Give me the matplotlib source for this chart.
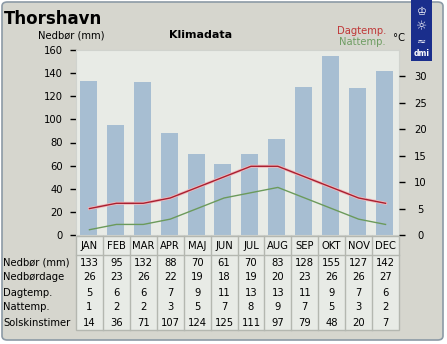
import numpy as np
import matplotlib.pyplot as plt
from matplotlib.patches import Rectangle, FancyBboxPatch

# Klimadata Thorshavn
maaneder = ['JAN', 'FEB', 'MAR', 'APR', 'MAJ', 'JUN', 'JUL', 'AUG', 'SEP', 'OKT', 'NOV', 'DEC']
nedbor = [133, 95, 132, 88, 70, 61, 70, 83, 128, 155, 127, 142]
nedbordage = [26, 23, 26, 22, 19, 18, 19, 20, 23, 26, 26, 27]
dagtemp = [5, 6, 6, 7, 9, 11, 13, 13, 11, 9, 7, 6]
nattemp = [1, 2, 2, 3, 5, 7, 8, 9, 7, 5, 3, 2]
solskin = [14, 36, 71, 107, 124, 125, 111, 97, 79, 48, 20, 7]

raekker = ['Nedbør (mm)', 'Nedbørdage', 'Dagtemp.', 'Nattemp.', 'Solskinstimer']
tabel = [nedbor, nedbordage, dagtemp, nattemp, solskin]

W, H = 447, 344
bg = '#d6d6ce'
plotbg = '#e8ebe6'
bar_col = '#a7bed2'
red = '#a82030'
green = '#6b9a5b'
fs = 7.2


def fx(x):
    return x / W


def fy(y):
    return 1 - y / H


fig = plt.figure(figsize=(W / 100, H / 100), dpi=100)
fig.patch.set_facecolor('white')

# ramme
ramme = FancyBboxPatch((fx(2), fy(340)), fx(441), (338) / H,
                       boxstyle='round,pad=0,rounding_size=0.012',
                       transform=fig.transFigure, facecolor=bg,
                       edgecolor='#8c9aa6', linewidth=1.2, zorder=-10)
fig.patches.append(ramme)

# DMI logo
fig.patches.append(Rectangle((fx(411), fy(61)), fx(21), 61 / H,
                             transform=fig.transFigure, facecolor='#1a2e8c',
                             edgecolor='none', zorder=-5))
fig.text(fx(421.5), fy(12), '♔', color='white', fontsize=8, ha='center', va='center')
fig.text(fx(421.5), fy(27), '☼', color='white', fontsize=9, ha='center', va='center')
fig.text(fx(421.5), fy(42), '≈', color='white', fontsize=8, ha='center', va='center')
fig.text(fx(421.5), fy(54), 'dmi', color='white', fontsize=5.5, weight='bold',
         ha='center', va='center')

# tekster
fig.text(fx(4), fy(19), 'Thorshavn', fontsize=12, weight='bold', ha='left', va='center')
fig.text(fx(71), fy(35), 'Nedbør (mm)', fontsize=fs, ha='center', va='center')
fig.text(fx(201), fy(35), 'Klimadata', fontsize=8, weight='bold', ha='center', va='center')
fig.text(fx(386), fy(31), 'Dagtemp.', fontsize=fs, color='#c03838', ha='right', va='center')
fig.text(fx(386), fy(42), 'Nattemp.', fontsize=fs, color='#6f9e63', ha='right', va='center')
fig.text(fx(393), fy(38), '°C', fontsize=fs, ha='left', va='center')

# diagram
x0, x1, y0, y1 = 76, 399, 50, 235
ax = fig.add_axes([fx(x0), fy(y1), fx(x1 - x0), (y1 - y0) / H])
ax.set_facecolor(plotbg)
x = np.arange(len(maaneder)) + 0.5
ax.bar(x - 0.04, nedbor, width=0.63, color=bar_col, zorder=1)
ax.set_xlim(0, 12)
ax.set_ylim(0, 160)
ax.set_yticks(range(0, 161, 20))
ax.set_xticks([])
ax.tick_params(axis='y', direction='out', length=4.3, width=1, pad=5, labelsize=fs)
for s in ax.spines.values():
    s.set_color('#d0d3ce')

ax2 = ax.twinx()
ax2.set_ylim(0, 35)
ax2.set_yticks(range(0, 31, 5))
ax2.tick_params(axis='y', direction='out', length=4.3, width=1, pad=11, labelsize=fs)
for lab in ax2.get_yticklabels():
    lab.set_horizontalalignment('center')
for s in ax2.spines.values():
    s.set_visible(False)
ax2.plot(x, dagtemp, color='#f0b8bc', linewidth=2.2, zorder=2)
ax2.plot(x, dagtemp, color=red, linewidth=1, zorder=3)
ax2.plot(x, nattemp, color=green, linewidth=1, zorder=3)

# tabel
t0, t1 = 236, 330
tab = fig.add_axes([fx(x0), fy(t1), fx(x1 - x0), (t1 - t0) / H])
tab.set_xlim(0, 12)
tab.set_ylim(t1, t0)
tab.axis('off')
gridc = '#b4b7b0'
tab.add_patch(Rectangle((0, t0), 12, t1 - t0, facecolor=plotbg, edgecolor=gridc,
                        linewidth=1, clip_on=False))
tab.plot([0, 12], [255, 255], color=gridc, linewidth=1, clip_on=False)
for i in range(1, 12):
    tab.plot([i, i], [t0, t1], color=gridc, linewidth=1, clip_on=False)
for i, m in enumerate(maaneder):
    tab.text(i + 0.5, 246, m, fontsize=fs, ha='center', va='center')
for r, (navn, vals) in enumerate(zip(raekker, tabel)):
    yc = 262.5 + r * 15
    fig.text(fx(3), fy(yc), navn, fontsize=fs, ha='left', va='center')
    for i, v in enumerate(vals):
        tab.text(i + 0.5, yc, str(v), fontsize=fs, ha='center', va='center')

fig.savefig('out.png', dpi=100, facecolor=fig.get_facecolor())
